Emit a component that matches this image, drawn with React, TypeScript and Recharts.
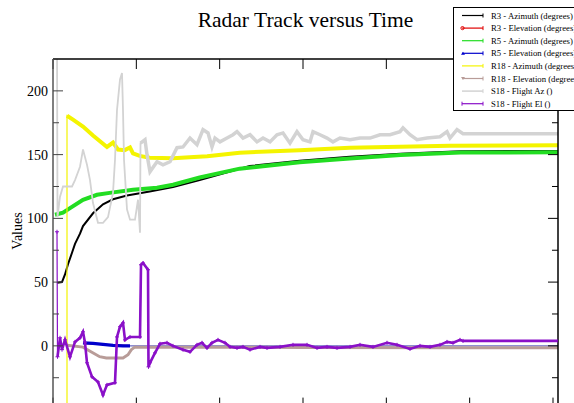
import React from 'react';
import { LineChart, Line, XAxis, YAxis } from 'recharts';

const serif = "'Liberation Serif', 'DejaVu Serif', serif";

// axis ticks
const yLabelTicks = [0, 50, 100, 150, 200];
const yMajorTicks = [-50, 0, 50, 100, 150, 200];
const yMinorTicks = [-25, 25, 75, 125, 175];
const xTicks = [0, 100, 200, 300, 400, 500, 600];

// R3 - Azimuth
const r3AzTime = [4.8, 10.8, 14.4, 18, 22.8, 26.4, 32.4, 36, 48, 60, 72, 88.8, 116, 144, 176, 236, 296, 356, 417, 489, 606];
const r3AzVals = [49.5, 50, 56, 64, 73, 80, 88, 94, 104, 111, 115, 118, 121, 124.5, 130, 141, 145.2, 148.3, 150.7, 152.7, 152.9];

// R3 - Elevation
const r3ElTime = [36, 60, 92.4];
const r3ElVals = [2, 1, 0];

// R5 - Azimuth
const r5AzTime = [2.4, 12, 20.4, 36, 52.8, 68, 96, 124.8, 144, 176, 224, 296, 356, 417, 489, 606];
const r5AzVals = [102.8, 104.4, 108, 114.6, 118.5, 120, 122.5, 124, 126.4, 132, 139, 144, 147, 149.7, 151.6, 151.8];

// R5 - Elevation
const r5ElTime = [36, 48, 60, 72, 84, 92.4, 200, 400, 606];
const r5ElVals = [2.4, 2, 1.2, 0.4, 0, 0, 0, 0, 0];

// R18 - Azimuth
const r18AzTime = [16.8, 16.8, 24, 36, 48, 64.8, 72, 78, 86, 92.4, 96, 104, 116, 144, 164, 185, 224, 296, 356, 476, 606];
const r18AzVals = [-80, 180.5, 177.4, 172, 165, 156, 159.4, 154, 153.5, 155.6, 151, 149, 147.6, 147.2, 148, 148.8, 151.5, 153.5, 155.4, 157, 157.4];

// R18 - Elevation
const r18ElTime = [16.8, 36, 44, 56, 64, 84, 90, 94, 98, 176, 300, 489, 606];
const r18ElVals = [0.5, -1, -4, -8.5, -9.5, -9.5, -7, -3, -1, -1, -1.2, -1.5, -1.5];

// S18 - Flight Az
const s18AzTime = [4.8, 5.4, 8.4, 12, 16.8, 22.8, 26.4, 32.4, 36, 40.8, 44.4, 48, 54, 60, 66, 72, 74.4, 76.8, 80.4, 82.8, 84, 85.2, 88.8, 92.4, 98.4, 102, 104.4, 105, 110.4, 112.8, 116.4, 124.8, 132, 140.4, 148.8, 156, 164.4, 172.8, 180, 186, 190.8, 194.4, 200.4, 208.8, 216, 220.8, 228, 236.4, 244.8, 252, 260.4, 268.8, 276, 284.4, 292.8, 300, 308.4, 312, 320.4, 328.8, 336, 344.4, 356.4, 368.4, 380.4, 392.4, 404.4, 416.4, 420, 428.4, 436.8, 448.8, 464.4, 472.8, 476.4, 484.8, 492, 606];
const s18AzVals = [240, 101, 117, 125, 125, 125, 130, 140.5, 154, 142, 130, 112, 96.5, 96.5, 101, 120, 146, 185, 209, 214, 185, 146, 107, 99, 99, 114.6, 88.7, 159, 161.7, 150, 136.6, 144.4, 142, 144.4, 155.4, 156, 163, 157.8, 169.6, 167, 156, 163, 160, 163, 165.6, 168, 163, 165.6, 160, 163, 160, 165.6, 167, 159, 168, 161.7, 160, 168, 165.6, 163, 160, 163, 161.7, 163, 163, 165.6, 165.6, 168, 171, 165.6, 161.7, 163, 164, 168, 163, 169.6, 166.4, 166.4];

// S18 - Flight El
const s18ElTime = [4.8, 5.4, 8.4, 10.8, 14.4, 20.4, 26.4, 32.4, 36, 38.4, 40.8, 46.8, 54, 60, 64.8, 74.4, 76.8, 80.4, 84, 86.4, 92.4, 104.4, 105.6, 108, 114, 114.6, 116.4, 122.4, 128.4, 136.8, 144, 156, 164.4, 172.8, 178.8, 184.8, 190.8, 198, 206.4, 212.4, 220.8, 228, 236.4, 248.4, 256.8, 272.4, 288, 304.8, 316.8, 328.8, 340.8, 356.4, 368.4, 384, 400.8, 412.8, 428.4, 440.4, 452.4, 464.4, 472.8, 480, 488.4, 492, 606];
const s18ElVals = [89.5, -8.6, 6.3, -3, 4.7, -8.6, 3.1, 6.3, 11, 2.4, -13.3, -24.3, -28.3, -38.5, -30.6, -29, 7, 15, 18, 4.7, 7, 7, 63.6, 65, 59.7, -16.5, -13.3, -5.5, 1.6, 2.4, 0, -3, -4.7, 0.8, 2.4, -1.6, 2.4, 4.7, 2.4, -0.8, -1.6, -0.8, -3, -0.8, -1.6, -0.8, 0.8, 0.8, -1.6, -0.8, -1.6, -0.8, 0.8, -0.8, 2.4, 0.8, -2.4, 0, -0.8, 0.8, 3.1, 2.4, 4.7, 3.9, 3.9];

const legendNames = [
  'R3 - Azimuth (degrees)',
  'R3 - Elevation (degrees)',
  'R5 - Azimuth (degrees)',
  'R5 - Elevation (degrees)',
  'R18 - Azimuth (degrees)',
  'R18 - Elevation (degrees)',
  'S18 - Flight Az ()',
  'S18 - Flight El ()',
];
const colors = ['#000000', '#e00000', '#22dd22', '#0000cc', '#f4f400', '#b89c98', '#d3d3d3', '#8a10c8'];

const zip = (t: number[], v: number[]) => t.map((x, i) => ({ t: x, v: v[i] }));

const r3Az = zip(r3AzTime, r3AzVals);
const r3El = zip(r3ElTime, r3ElVals);
const r5Az = zip(r5AzTime, r5AzVals);
const r5El = zip(r5ElTime, r5ElVals);
const r18Az = zip(r18AzTime, r18AzVals);
const r18El = zip(r18ElTime, r18ElVals);
const s18Az = zip(s18AzTime, s18AzVals);
const s18El = zip(s18ElTime, s18ElVals);

const noLabel = (p: any) => <g key={`n${p.index}`} />;

const renderPlus = (p: any) => {
  const { cx, cy, index } = p;
  if (cx == null || cy == null) return <g key={`p${index}`} />;
  return (
    <path key={`p${index}`} d={`M${cx - 2},${cy}H${cx + 2}M${cx},${cy - 2}V${cy + 2}`} stroke={colors[7]} strokeWidth={1} />
  );
};

const Legend = () => (
  <svg width={121} height={104} style={{ position: 'absolute', left: 453, top: 7 }}>
    <rect x={0.5} y={0.5} width={130} height={103} fill="#fff" stroke="#000" strokeWidth={1} />
    {legendNames.map((name, i) => {
      const y = 8.5 + i * 12.6;
      const c = colors[i];
      return (
        <g key={name}>
          <line x1={9} x2={30} y1={y} y2={y} stroke={c} strokeWidth={i === 6 ? 1.5 : 1.2} />
          {i === 1 && <circle cx={9.5} cy={y} r={1.6} fill="none" stroke={c} />}
          {i === 3 && <path d={`M8,${y + 1.5}L10,${y - 1.5}L12,${y + 1.5}Z`} fill={c} />}
          {i === 5 && <path d={`M8,${y - 1.5}L10,${y + 1.5}L12,${y - 1.5}Z`} fill={c} />}
          {i === 7 && <path d={`M9,${y - 2}V${y + 2}`} stroke={c} />}
          <path d={`M30,${y - 2}V${y + 2}`} stroke={c} strokeWidth={1} />
          <text x={38} y={y + 3} fontSize={8.7} fontFamily="Liberation Serif" fill="#000">{name}</text>
        </g>
      );
    })}
  </svg>
);

export default function App() {
  const yDomain: [number, number] = [-50, 225];
  const xDomain: [number, number] = [0, 606];
  return (
    <div style={{ position: 'absolute', left: 0, top: 0, width: 574, height: 403, overflow: 'hidden', background: '#fff', fontFamily: serif }}>
      <div style={{ position: 'absolute', left: 0, top: 0 }}>
        <LineChart width={574} height={420} margin={{ top: 59, right: 16, bottom: 10.4, left: 0 }}>
          <XAxis xAxisId="x" type="number" dataKey="t" domain={xDomain} allowDataOverflow hide />
          <XAxis xAxisId="top" orientation="top" mirror height={0.01} type="number" dataKey="t" domain={xDomain} allowDataOverflow ticks={xTicks} interval={0} tick={noLabel} tickSize={10} tickLine={{ stroke: '#000' }} axisLine={{ stroke: '#000', strokeWidth: 1.5 }} />
          <XAxis xAxisId="bottom" orientation="bottom" mirror height={0.01} type="number" dataKey="t" domain={xDomain} allowDataOverflow ticks={xTicks} interval={0} tick={noLabel} tickSize={12} tickLine={{ stroke: '#000' }} axisLine={false} />
          <YAxis yAxisId="y" type="number" domain={yDomain} allowDataOverflow ticks={yLabelTicks} interval={0} width={53} tickLine={false} tickSize={0} tickMargin={5} axisLine={{ stroke: '#555', strokeWidth: 1.5 }} tick={{ fontSize: 14, fill: '#000', fontFamily: serif }} />
          <YAxis yAxisId="lMaj" orientation="left" mirror width={0.01} type="number" domain={yDomain} allowDataOverflow ticks={yMajorTicks} interval={0} tick={noLabel} tickSize={10} tickLine={{ stroke: '#444' }} axisLine={false} />
          <YAxis yAxisId="lMin" orientation="left" mirror width={0.01} type="number" domain={yDomain} allowDataOverflow ticks={yMinorTicks} interval={0} tick={noLabel} tickSize={6} tickLine={{ stroke: '#444' }} axisLine={false} />
          <YAxis yAxisId="rMaj" orientation="right" mirror width={0.01} type="number" domain={yDomain} allowDataOverflow ticks={yMajorTicks} interval={0} tick={noLabel} tickSize={10} tickLine={{ stroke: '#000' }} axisLine={{ stroke: '#000', strokeWidth: 1.5 }} />
          <YAxis yAxisId="rMin" orientation="right" mirror width={0.01} type="number" domain={yDomain} allowDataOverflow ticks={yMinorTicks} interval={0} tick={noLabel} tickSize={6} tickLine={{ stroke: '#000' }} axisLine={false} />

          <Line xAxisId="x" yAxisId="y" data={r3Az} dataKey="v" stroke={colors[0]} strokeWidth={2} dot={false} isAnimationActive={false} />
          <Line xAxisId="x" yAxisId="y" data={r3El} dataKey="v" stroke={colors[1]} strokeWidth={1.5} dot={false} isAnimationActive={false} />
          <Line xAxisId="x" yAxisId="y" data={r5Az} dataKey="v" stroke={colors[2]} strokeWidth={4} dot={false} isAnimationActive={false} />
          <Line xAxisId="x" yAxisId="y" data={r5El} dataKey="v" stroke="#6a6ac4" strokeWidth={1.2} dot={false} isAnimationActive={false} />
          <Line xAxisId="x" yAxisId="y" data={r5El.filter((d) => d.t <= 92.4)} dataKey="v" stroke={colors[3]} strokeWidth={3.2} dot={false} isAnimationActive={false} />
          <Line xAxisId="x" yAxisId="y" data={r18Az} dataKey="v" stroke={colors[4]} strokeWidth={1.2} dot={false} isAnimationActive={false} />
          <Line xAxisId="x" yAxisId="y" data={r18Az.slice(1)} dataKey="v" stroke={colors[4]} strokeWidth={4} dot={false} isAnimationActive={false} />
          <Line xAxisId="x" yAxisId="y" data={r18El} dataKey="v" stroke={colors[5]} strokeWidth={3} dot={false} isAnimationActive={false} />
          <Line xAxisId="x" yAxisId="y" data={s18Az} dataKey="v" stroke={colors[6]} strokeWidth={1.8} dot={false} isAnimationActive={false} />
          <Line xAxisId="x" yAxisId="y" data={s18Az.slice(27)} dataKey="v" stroke={colors[6]} strokeWidth={3.5} dot={false} isAnimationActive={false} />
          <Line xAxisId="x" yAxisId="y" data={s18El} dataKey="v" stroke={colors[7]} strokeWidth={1.2} dot={renderPlus} isAnimationActive={false} />
          <Line xAxisId="x" yAxisId="y" data={s18El.slice(1)} dataKey="v" stroke={colors[7]} strokeWidth={2.6} dot={false} isAnimationActive={false} />
        </LineChart>
      </div>
      <div style={{ position: 'absolute', left: 53, width: 505, top: 7, textAlign: 'center', fontSize: 21.5, lineHeight: '26px', color: '#000' }}>
        Radar Track versus Time
      </div>
      <div style={{ position: 'absolute', left: 18, top: 231, transform: 'translate(-50%, -50%) rotate(-90deg)', fontSize: 14, whiteSpace: 'nowrap', color: '#000' }}>
        Values
      </div>
      <Legend />
    </div>
  );
}
